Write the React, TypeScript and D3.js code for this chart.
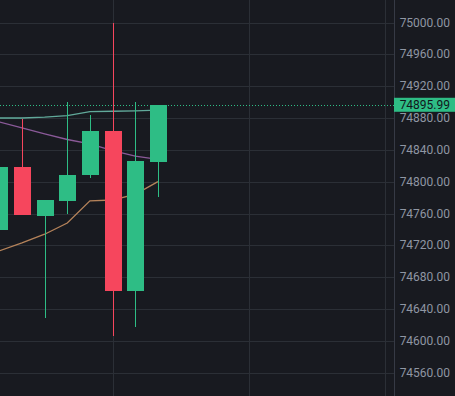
import React from 'react';
import * as d3 from 'd3';

// candle data (index 0 is cut off at the left edge)
const opens = [74739, 74819, 74757, 74776, 74808, 74864, 74663, 74825];
const closes = [74819, 74758, 74777, 74808, 74864, 74663, 74826, 74895.99];
const highs = [74821, 74879, 74777, 74900, 74884, 75000, 74900, 74896];
const lows = [74727, 74758, 74629, 74760, 74804, 74606, 74618, 74781];

// moving averages
const maFast = [74880, 74880, 74881, 74883, 74888, 74888.5, 74889, 74890];
const maMid = [74875, 74867.5, 74860, 74853, 74847.5, 74839, 74832, 74828];
const maSlow = [74713, 74723, 74734, 74748, 74776, 74777, 74784, 74800];

const priceTicks = d3.range(74560, 75001, 40);
const timeTicks = [5, 11, 17];
const lastPrice = 74895.99;

const W = 455;
const H = 396;
const axisX = 394;

const App = () => {
  const x = d3.scaleLinear().domain([0, 17]).range([-0.7, 384.5]);
  const y = d3.scaleLinear().domain([74560, 75000]).range([372.7, 22.5]);
  const bodyW = 17;
  const up = '#2ebd85';
  const down = '#f6465d';

  const line = (vals: number[]) =>
    d3.line<number>().x((_, i) => x(i)).y(d => y(d))(vals) || '';

  const candles = opens.map((o, i) => ({ o, c: closes[i], h: highs[i], l: lows[i], i }));

  return (
    <div style={{ position: 'fixed', left: 0, top: 0 }}>
      <svg width={W} height={H} style={{ display: 'block', background: '#181a20' }}
        fontFamily="Roboto, 'Liberation Sans', sans-serif">
        <rect width={W} height={H} fill="#181a20" />
        <g shapeRendering="crispEdges" stroke="#2b2f36" strokeWidth={1}>
          {priceTicks.map(t => (
            <line key={t} x1={0} x2={axisX} y1={Math.round(y(t)) + 0.5} y2={Math.round(y(t)) + 0.5} />
          ))}
          {timeTicks.map(t => (
            <line key={t} x1={Math.round(x(t)) + 0.5} x2={Math.round(x(t)) + 0.5} y1={0} y2={H} />
          ))}
        </g>
        <line x1={axisX + 0.5} x2={axisX + 0.5} y1={0} y2={H} stroke="#363a45" shapeRendering="crispEdges" />

        <path d={line(maSlow)} fill="none" stroke="#b5835a" strokeWidth={1.3} />
        <path d={line(maMid)} fill="none" stroke="#8b5a99" strokeWidth={1.3} />
        <path d={line(maFast)} fill="none" stroke="#6fc3b0" strokeOpacity={0.85} strokeWidth={1.3} />

        <g shapeRendering="crispEdges">
          {candles.map(d => {
            const col = d.c >= d.o ? up : down;
            const cx = Math.round(x(d.i));
            const top = y(Math.max(d.o, d.c));
            const bot = y(Math.min(d.o, d.c));
            return (
              <g key={d.i}>
                <rect x={cx} y={y(d.h)} width={1} height={y(d.l) - y(d.h)} fill={col} />
                <rect x={cx - bodyW / 2 + 0.5} y={top} width={bodyW} height={Math.max(1, bot - top)} fill={col} />
              </g>
            );
          })}
        </g>

        <line x1={0} x2={axisX} y1={Math.round(y(lastPrice)) + 0.5} y2={Math.round(y(lastPrice)) + 0.5}
          stroke={up} strokeDasharray="1 2" shapeRendering="crispEdges" />

        <g fontSize={12} fill="#8f96a3">
          {priceTicks.map(t => (
            <text key={t} x={450} y={y(t)} textAnchor="end" dominantBaseline="central">
              {d3.format('.2f')(t)}
            </text>
          ))}
        </g>
        <rect x={axisX} y={y(lastPrice) - 7.5} width={W - axisX} height={14} fill={up} />
        <text x={450} y={y(lastPrice)} textAnchor="end" dominantBaseline="central" fontSize={12} fill="#12161c">
          {d3.format('.2f')(lastPrice)}
        </text>
      </svg>
    </div>
  );
};

export default App;
